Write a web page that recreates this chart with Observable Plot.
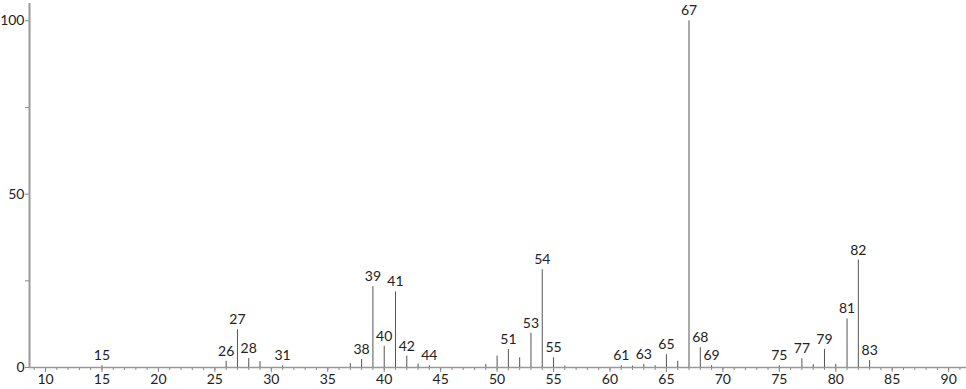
<!DOCTYPE html>
<html>
<head>
<meta charset="utf-8">
<script src="https://cdn.jsdelivr.net/npm/d3@7"></script>
<script src="https://cdn.jsdelivr.net/npm/@observablehq/plot@0.6"></script>
<style>
  html, body { margin: 0; padding: 0; background: #fff; }
  #chart svg { display: block; }
</style>
</head>
<body>
<div id="chart"></div>
<script>
// m/z values and relative intensities
const mz =        [15, 26, 27, 28, 29, 31, 37, 38, 39, 40, 41, 42, 43, 44, 49, 50, 51, 52, 53, 54, 55, 56, 61, 62, 63, 64, 65, 66, 67, 68, 69, 75, 77, 78, 79, 80, 81, 82, 83];
const intensity = [0.5, 1.8, 10.9, 2.6, 1.7, 0.5, 1.1, 2.3, 23.3, 6.1, 21.8, 3.3, 1.0, 0.5, 0.9, 3.3, 5.2, 2.8, 9.9, 28.2, 2.8, 0.4, 0.5, 0.4, 0.9, 0.5, 3.7, 1.8, 100, 5.7, 0.5, 0.5, 2.5, 0.8, 5.2, 0.9, 14.0, 31.0, 2.0];
const labeledMz = [15, 26, 27, 28, 31, 38, 39, 40, 41, 42, 44, 51, 53, 54, 55, 61, 63, 65, 67, 68, 69, 75, 77, 79, 81, 82, 83];

const yTicks = [0, 25, 50, 75, 100];
const yTickLabels = [0, 50, 100];
const xMajorTicks = d3.range(10, 91, 5);
const xMinorTicks = d3.range(9, 92, 1);

const peaks = mz.map((m, i) => ({mz: m, intensity: intensity[i]}));
const labels = peaks.filter(d => labeledMz.includes(d.mz));

const xDomain = [8.58, 91.58];
const fontFamily = "Lato, 'DejaVu Sans', sans-serif";

const chart = Plot.plot({
  width: 966,
  height: 389,
  marginLeft: 29,
  marginRight: 0,
  marginTop: 3,
  marginBottom: 22,
  style: {fontFamily, fontSize: "14px", color: "#222", background: "#fff"},
  x: {domain: xDomain, label: null},
  y: {domain: [0, 105], label: null},
  marks: [
    Plot.axisX({ticks: xMinorTicks, tickSize: 3, tickFormat: () => "", stroke: "#888", label: null}),
    Plot.axisX({ticks: xMajorTicks, tickSize: 5, tickPadding: 2, stroke: "#888", fontSize: 14, fill: "#222", label: null}),
    Plot.axisY({ticks: yTicks, tickSize: 4, tickPadding: 1, stroke: "#888", fontSize: 14, fill: "#222", label: null,
      tickFormat: d => yTickLabels.includes(d) ? String(d) : ""}),
    Plot.ruleY([0], {stroke: "#999", strokeWidth: 1.5}),
    Plot.ruleX([xDomain[0]], {stroke: "#999", strokeWidth: 2}),
    Plot.ruleX(peaks, {x: "mz", y1: 0, y2: "intensity", stroke: "#555", strokeWidth: 1}),
    Plot.text(labels, {x: "mz", y: "intensity", text: d => String(d.mz), dy: -10, fontSize: 14, fill: "#222"})
  ]
});
document.getElementById("chart").appendChild(chart);
</script>
</body>
</html>
